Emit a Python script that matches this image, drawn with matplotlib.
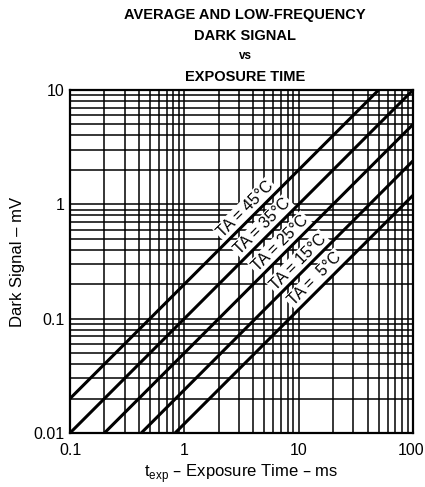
import matplotlib
matplotlib.use("Agg")
import matplotlib.pyplot as plt
import numpy as np
from matplotlib.ticker import LogLocator, NullFormatter, FixedLocator
from matplotlib.transforms import ScaledTranslation

plt.rcParams['font.family'] = ['Liberation Sans', 'DejaVu Sans']

# Data: each curve defined by its end points (exposure time ms, dark signal mV)
temps = [45, 35, 25, 15, 5]
t_start = [0.1, 0.1, 0.2, 0.42, 0.83]
v_start = [0.02, 0.01, 0.01, 0.01, 0.01]
t_end = [50, 100, 100, 100, 100]
v_end = [10, 10, 5, 2.4, 1.2]

# where along each curve its label sits (exposure time, ms)
label_t = [3.94, 5.56, 7.92, 11.4, 16.0]
label_txt = ["TA = 45°C", "TA = 35°C", "TA = 25°C", "TA = 15°C", "TA =  5°C"]

xticks = [0.1, 1, 10, 100]
xticklabels = ["0.1", "1", "10", "100"]
yticks = [0.01, 0.1, 1, 10]
yticklabels = ["0.01", "0.1", "1", "10"]

fig = plt.figure(figsize=(4.25, 4.87), dpi=100)
ax = fig.add_axes([70/425, 1-433/487, 343/425, 343/487])
ax.set_xscale('log')
ax.set_yscale('log')
ax.set_xlim(0.1, 100)
ax.set_ylim(0.01, 10)

ax.xaxis.set_major_locator(FixedLocator(xticks))
ax.yaxis.set_major_locator(FixedLocator(yticks))
ax.set_xticklabels(xticklabels)
ax.set_yticklabels(yticklabels)
ax.xaxis.set_minor_locator(LogLocator(base=10, subs=np.arange(2, 10)))
ax.yaxis.set_minor_locator(LogLocator(base=10, subs=np.arange(2, 10)))
ax.xaxis.set_minor_formatter(NullFormatter())
ax.yaxis.set_minor_formatter(NullFormatter())
ax.grid(True, which='both', color='black', linewidth=1.1, zorder=1)
ax.tick_params(which='both', length=0, labelsize=11.5)
ax.tick_params(axis='x', pad=7)
ax.tick_params(axis='y', pad=4)
for s in ax.spines.values():
    s.set_linewidth(1.6)
# nudge the "100" label slightly left so it stays inside the figure
lab100 = ax.get_xticklabels()[-1]
lab100.set_transform(lab100.get_transform() + ScaledTranslation(-2/100, 0, fig.dpi_scale_trans))

for ts, vs, te, ve, lt, txt in zip(t_start, v_start, t_end, v_end, label_t, label_txt):
    ax.plot([ts, te], [vs, ve], color='black', linewidth=2.2, zorder=4, solid_capstyle='butt')
    lv = 10 ** np.interp(np.log10(lt), np.log10([ts, te]), np.log10([vs, ve]))
    ax.annotate(txt, xy=(lt, lv), xytext=(-5.8, 5.8), textcoords='offset points',
                rotation=45, ha='center', va='center_baseline', rotation_mode='anchor',
                fontsize=11.5, zorder=3,
                bbox=dict(facecolor='white', edgecolor='none', pad=1.2))

ax.set_ylabel("Dark Signal – mV", fontsize=12, labelpad=6)
ax.set_xlabel(r"t$_{\mathregular{exp}}$ – Exposure Time – ms", fontsize=12, labelpad=3)

cx = 245/425
fig.text(cx, 1-15/487, "AVERAGE AND LOW-FREQUENCY", ha='center', va='center', fontsize=10.5, fontweight='bold')
fig.text(cx, 1-36/487, "DARK SIGNAL", ha='center', va='center', fontsize=10.5, fontweight='bold')
fig.text(cx, 1-56/487, "vs", ha='center', va='center', fontsize=8.5, fontweight='bold')
fig.text(cx, 1-77/487, "EXPOSURE TIME", ha='center', va='center', fontsize=10.5, fontweight='bold')

fig.savefig("out.png", dpi=100)
